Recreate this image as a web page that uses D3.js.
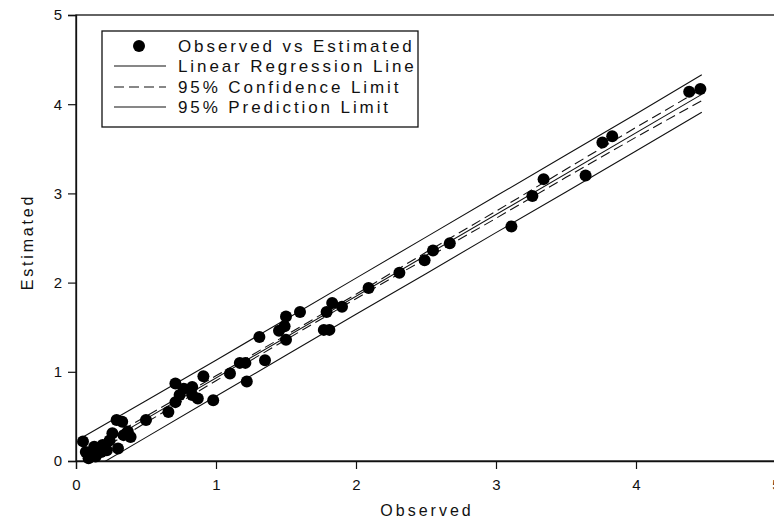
<!DOCTYPE html>
<html>
<head>
<meta charset="utf-8">
<script src="https://cdn.jsdelivr.net/npm/d3@7"></script>
<style>
  body { margin: 0; background: #fff; }
  svg { display: block; font-family: "Liberation Sans", Arial, sans-serif; }
</style>
</head>
<body>
<div id="chart"></div>
<script>
// Observed vs Estimated points
const observed = [0.05, 0.07, 0.09, 0.10, 0.13, 0.14, 0.18, 0.19, 0.22, 0.24, 0.26, 0.29, 0.30, 0.33, 0.34, 0.37, 0.39, 0.50,
  0.66, 0.71, 0.71, 0.74, 0.77, 0.83, 0.83, 0.87, 0.91, 0.98, 1.10, 1.17, 1.21, 1.22, 1.31, 1.35,
  1.45, 1.50, 1.49, 1.50, 1.60, 1.77, 1.81, 1.79, 1.83, 1.90, 2.09, 2.31, 2.49, 2.55, 2.67,
  3.11, 3.26, 3.34, 3.64, 3.76, 3.83, 4.38, 4.46];
const estimated = [0.22, 0.10, 0.03, 0.07, 0.16, 0.05, 0.10, 0.18, 0.12, 0.23, 0.31, 0.46, 0.14, 0.44, 0.29, 0.33, 0.27, 0.46,
  0.55, 0.66, 0.87, 0.74, 0.81, 0.83, 0.74, 0.70, 0.95, 0.68, 0.98, 1.10, 1.10, 0.89, 1.39, 1.13,
  1.46, 1.36, 1.51, 1.62, 1.67, 1.47, 1.47, 1.67, 1.77, 1.73, 1.94, 2.11, 2.25, 2.36, 2.44,
  2.63, 2.97, 3.16, 3.20, 3.57, 3.64, 4.14, 4.17];

// Regression line and limits, read at a few x positions
const regX = [0.05, 4.47];
const regY = [0.06, 4.11];
const limitX = [0.05, 0.5, 1.0, 1.5, 2.0, 2.5, 3.0, 3.5, 4.0, 4.47];
const confUpper = [0.10, 0.50, 0.955, 1.41, 1.87, 2.34, 2.80, 3.27, 3.74, 4.17];
const confLower = [0.01, 0.43, 0.90, 1.36, 1.82, 2.27, 2.72, 3.18, 3.63, 4.04];
const predUpper = [0.27, 0.675, 1.13, 1.59, 2.05, 2.51, 2.97, 3.43, 3.89, 4.33];
const predLower = [-0.15, 0.265, 0.725, 1.185, 1.645, 2.10, 2.56, 3.015, 3.475, 3.91];

const ticks = [0, 1, 2, 3, 4, 5];
const legendLabels = ['Observed vs Estimated', 'Linear Regression Line', '95% Confidence Limit', '95% Prediction Limit'];

const W = 774, H = 524;
const svg = d3.select('#chart').append('svg')
    .attr('width', W)
    .attr('height', H);

const x = d3.scaleLinear().domain([0, 5]).range([76, 776]);
const y = d3.scaleLinear().domain([0, 5]).range([461, 15]);

svg.append('clipPath').attr('id', 'plot')
    .append('rect')
    .attr('x', x(0)).attr('y', y(5))
    .attr('width', x(5) - x(0)).attr('height', y(0) - y(5));

// Frame
svg.append('rect')
    .attr('x', x(0)).attr('y', y(5))
    .attr('width', x(5) - x(0)).attr('height', y(0) - y(5))
    .attr('fill', 'none')
    .attr('stroke', '#111')
    .attr('stroke-width', 1.3);

// Axes
const xAxis = svg.append('g')
    .attr('transform', `translate(0,${y(0)})`)
    .call(d3.axisBottom(x).tickValues(ticks).tickSize(8).tickPadding(10).tickFormat(d3.format('d')));
const yAxis = svg.append('g')
    .attr('transform', `translate(${x(0)},0)`)
    .call(d3.axisLeft(y).tickValues(ticks).tickSize(8).tickPadding(6).tickFormat(d3.format('d')));

[xAxis, yAxis].forEach(a => {
    a.select('.domain').attr('stroke', '#111').attr('stroke-width', 1.3);
    a.selectAll('.tick line').attr('stroke', '#111').attr('stroke-width', 1.2);
    a.selectAll('.tick text')
        .attr('fill', '#111')
        .style('font-size', '15px')
        .style('font-family', '"Liberation Sans", Arial, sans-serif');
});

// Axis labels
svg.append('text')
    .attr('x', 427)
    .attr('y', 516)
    .attr('text-anchor', 'middle')
    .style('font-size', '16px')
    .style('letter-spacing', '3px')
    .attr('fill', '#111')
    .text('Observed');

svg.append('text')
    .attr('transform', 'rotate(-90)')
    .attr('x', -242)
    .attr('y', 33)
    .attr('text-anchor', 'middle')
    .style('font-size', '16px')
    .style('letter-spacing', '2.8px')
    .attr('fill', '#111')
    .text('Estimated');

// Lines
const plot = svg.append('g').attr('clip-path', 'url(#plot)');

const line = d3.line()
    .x(d => x(d[0]))
    .y(d => y(d[1]));

const series = [
    { xs: limitX, ys: predUpper, dash: null },
    { xs: limitX, ys: predLower, dash: null },
    { xs: limitX, ys: confUpper, dash: '10,5' },
    { xs: limitX, ys: confLower, dash: '10,5' },
    { xs: regX, ys: regY, dash: null }
];

plot.selectAll('.fit-line')
    .data(series)
    .enter()
    .append('path')
    .attr('class', 'fit-line')
    .attr('fill', 'none')
    .attr('stroke', '#111')
    .attr('stroke-width', 1.1)
    .attr('stroke-dasharray', d => d.dash)
    .attr('d', d => line(d.xs.map((v, i) => [v, d.ys[i]])));

// Points
svg.append('g')
    .selectAll('circle')
    .data(observed.map((v, i) => [v, estimated[i]]))
    .enter()
    .append('circle')
    .attr('cx', d => x(d[0]))
    .attr('cy', d => y(d[1]))
    .attr('r', 6)
    .attr('fill', '#000');

// Legend
const legend = svg.append('g');
legend.append('rect')
    .attr('x', 102).attr('y', 31)
    .attr('width', 316).attr('height', 96)
    .attr('fill', '#fff')
    .attr('stroke', '#111')
    .attr('stroke-width', 1.3);

const rowY = [46, 66, 87, 107];
legend.append('circle')
    .attr('cx', 139).attr('cy', rowY[0])
    .attr('r', 6).attr('fill', '#000');

[[1, null], [2, '10,5'], [3, null]].forEach(([i, dash]) => {
    legend.append('line')
        .attr('x1', 114).attr('x2', 166)
        .attr('y1', rowY[i]).attr('y2', rowY[i])
        .attr('stroke', '#111')
        .attr('stroke-width', 1.1)
        .attr('stroke-dasharray', dash);
});

legend.selectAll('.legend-text')
    .data(legendLabels)
    .enter()
    .append('text')
    .attr('class', 'legend-text')
    .attr('x', 178)
    .attr('y', (d, i) => rowY[i] + 6)
    .style('font-size', '17px')
    .style('letter-spacing', '2.9px')
    .attr('fill', '#111')
    .text(d => d);
</script>
</body>
</html>
